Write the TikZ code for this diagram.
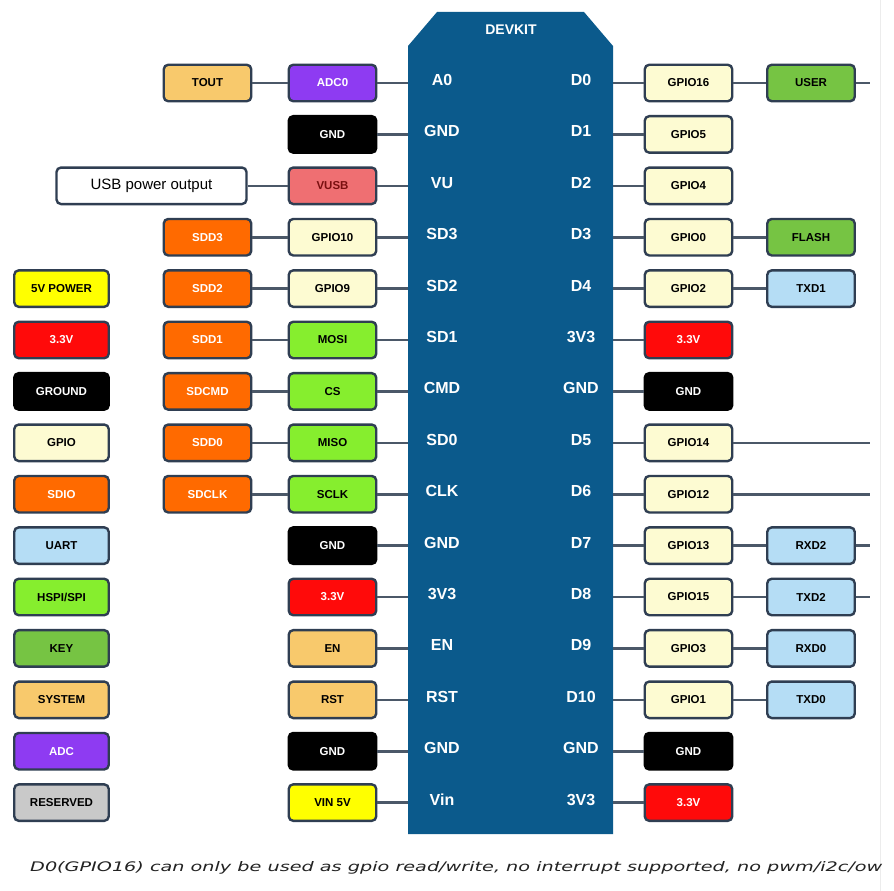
\documentclass[tikz,border=0pt]{standalone}
\usepackage{fontspec}
\setmainfont{Liberation Sans}
\newfontfamily\footfont{DejaVu Sans}
\definecolor{chipblue}{HTML}{0B5A8C}
\definecolor{bord}{HTML}{2F3E52}
\definecolor{wirec}{HTML}{4B5868}
\definecolor{cream}{HTML}{FDFBD2}
\definecolor{sdioc}{HTML}{FF6A00}
\definecolor{hspic}{HTML}{86EE2E}
\definecolor{keyc}{HTML}{76C443}
\definecolor{uartc}{HTML}{B5DDF5}
\definecolor{sysc}{HTML}{F8C96C}
\definecolor{adcc}{HTML}{8E3BF2}
\definecolor{vusbc}{HTML}{EF6F72}
\definecolor{vusbt}{HTML}{7A1010}
\definecolor{resc}{HTML}{C9C9C9}
\definecolor{redc}{HTML}{FF0A0A}
\definecolor{yelc}{HTML}{FFFF00}
\definecolor{foottext}{HTML}{222222}
\tikzset{
  pbox/.style={draw=bord, line width=2.4pt, rounded corners=4.5pt, minimum width=87.5pt, minimum height=36.5pt, inner sep=0pt, font=\bfseries\fontsize{11.5}{11.5}\selectfont},
  lbox/.style={pbox, minimum width=94.5pt},
  wbox/.style={pbox, minimum width=190pt, fill=white, text=black, font=\fontsize{15}{15}\selectfont},
  gpio/.style={fill=cream, text=black},
  sdio/.style={fill=sdioc, text=white},
  hspi/.style={fill=hspic, text=black},
  keyb/.style={fill=keyc, text=black},
  uart/.style={fill=uartc, text=black},
  sysb/.style={fill=sysc, text=black},
  adcb/.style={fill=adcc, text=white},
  vusb/.style={fill=vusbc, text=vusbt},
  resb/.style={fill=resc, text=black},
  gndb/.style={fill=black, draw=black, text=white},
  p3b/.style={fill=redc, text=white},
  p5b/.style={fill=yelc, text=black},
  wire/.style={draw=wirec, line width=2.6pt},
  pinl/.style={text=white, font=\bfseries\fontsize{16}{16}\selectfont, inner sep=0pt},
}
\begin{document}
\begin{tikzpicture}[x=1pt,y=-1pt]
\useasboundingbox (0,0) rectangle (894,891);
\fill[white] (0,0) rectangle (894,891);
\draw[gray!15, line width=1pt] (880,0) -- (880,891);
% chip
\fill[chipblue] (408,46) -- (437,12) -- (584,12) -- (613,46) -- (613,834) -- (408,834) -- cycle;
\node[text=white, font=\bfseries\fontsize{14}{14}\selectfont] (title) at (511,30) {DEVKIT};
\coordinate (chipL) at (408,0);
\coordinate (chipR) at (613,0);
\coordinate (tailR) at (870,0);
% pin labels
\foreach \i/\l/\r in {0/A0/D0,1/GND/D1,2/VU/D2,3/SD3/D3,4/SD2/D4,5/SD1/3V3,6/CMD/GND,7/SD0/D5,8/CLK/D6,9/GND/D7,10/3V3/D8,11/EN/D9,12/RST/D10,13/GND/GND,14/Vin/3V3}{
  \node[pinl] (pl\i) at (442,{80+51.4*\i}) {\l};
  \node[pinl] (pr\i) at (581,{80+51.4*\i}) {\r};
}
% left column 2
\node[pbox,adcb] (L2-0) at (332.5,83) {ADC0};
\node[pbox,gndb] (L2-1) at (332.5,134.4) {GND};
\node[pbox,vusb] (L2-2) at (332.5,185.8) {VUSB};
\node[pbox,gpio] (L2-3) at (332.5,237.2) {GPIO10};
\node[pbox,gpio] (L2-4) at (332.5,288.6) {GPIO9};
\node[pbox,hspi] (L2-5) at (332.5,340) {MOSI};
\node[pbox,hspi] (L2-6) at (332.5,391.4) {CS};
\node[pbox,hspi] (L2-7) at (332.5,442.8) {MISO};
\node[pbox,hspi] (L2-8) at (332.5,494.2) {SCLK};
\node[pbox,gndb] (L2-9) at (332.5,545.6) {GND};
\node[pbox,p3b] (L2-10) at (332.5,597) {3.3V};
\node[pbox,sysb] (L2-11) at (332.5,648.4) {EN};
\node[pbox,sysb] (L2-12) at (332.5,699.8) {RST};
\node[pbox,gndb] (L2-13) at (332.5,751.2) {GND};
\node[pbox,p5b] (L2-14) at (332.5,802.6) {VIN 5V};
% left column 1
\node[pbox,sysb] (L1-0) at (207.5,83) {TOUT};
\node[wbox] (L1-2) at (151.5,185.8) {USB power output};
\node[pbox,sdio] (L1-3) at (207.5,237.2) {SDD3};
\node[pbox,sdio] (L1-4) at (207.5,288.6) {SDD2};
\node[pbox,sdio] (L1-5) at (207.5,340) {SDD1};
\node[pbox,sdio] (L1-6) at (207.5,391.4) {SDCMD};
\node[pbox,sdio] (L1-7) at (207.5,442.8) {SDD0};
\node[pbox,sdio] (L1-8) at (207.5,494.2) {SDCLK};
% legend
\node[lbox,p5b] (G-4) at (61.5,288.6) {5V POWER};
\node[lbox,p3b] (G-5) at (61.5,340) {3.3V};
\node[lbox,gndb] (G-6) at (61.5,391.4) {GROUND};
\node[lbox,gpio] (G-7) at (61.5,442.8) {GPIO};
\node[lbox,sdio] (G-8) at (61.5,494.2) {SDIO};
\node[lbox,uart] (G-9) at (61.5,545.6) {UART};
\node[lbox,hspi] (G-10) at (61.5,597) {HSPI/SPI};
\node[lbox,keyb] (G-11) at (61.5,648.4) {KEY};
\node[lbox,sysb] (G-12) at (61.5,699.8) {SYSTEM};
\node[lbox,adcb] (G-13) at (61.5,751.2) {ADC};
\node[lbox,resb] (G-14) at (61.5,802.6) {RESERVED};
% right column 1
\node[pbox,gpio] (R1-0) at (688.5,83) {GPIO16};
\node[pbox,gpio] (R1-1) at (688.5,134.4) {GPIO5};
\node[pbox,gpio] (R1-2) at (688.5,185.8) {GPIO4};
\node[pbox,gpio] (R1-3) at (688.5,237.2) {GPIO0};
\node[pbox,gpio] (R1-4) at (688.5,288.6) {GPIO2};
\node[pbox,p3b] (R1-5) at (688.5,340) {3.3V};
\node[pbox,gndb] (R1-6) at (688.5,391.4) {GND};
\node[pbox,gpio] (R1-7) at (688.5,442.8) {GPIO14};
\node[pbox,gpio] (R1-8) at (688.5,494.2) {GPIO12};
\node[pbox,gpio] (R1-9) at (688.5,545.6) {GPIO13};
\node[pbox,gpio] (R1-10) at (688.5,597) {GPIO15};
\node[pbox,gpio] (R1-11) at (688.5,648.4) {GPIO3};
\node[pbox,gpio] (R1-12) at (688.5,699.8) {GPIO1};
\node[pbox,gndb] (R1-13) at (688.5,751.2) {GND};
\node[pbox,p3b] (R1-14) at (688.5,802.6) {3.3V};
% right column 2
\node[pbox,keyb] (R2-0) at (811,83) {USER};
\node[pbox,keyb] (R2-3) at (811,237.2) {FLASH};
\node[pbox,uart] (R2-4) at (811,288.6) {TXD1};
\node[pbox,uart] (R2-9) at (811,545.6) {RXD2};
\node[pbox,uart] (R2-10) at (811,597) {TXD2};
\node[pbox,uart] (R2-11) at (811,648.4) {RXD0};
\node[pbox,uart] (R2-12) at (811,699.8) {TXD0};
% wires
\foreach \i in {0,...,14}{
  \draw[wire] (L2-\i.east) -- (L2-\i.east -| chipL);
  \draw[wire] (R1-\i.west) -- (R1-\i.west -| chipR);
}
\foreach \i in {0,2,3,4,5,6,7,8}{
  \draw[wire] (L1-\i.east) -- (L2-\i.west);
}
\foreach \i in {0,3,4,9,10,11,12}{
  \draw[wire] (R1-\i.east) -- (R2-\i.west);
}
\foreach \i in {0,9,10}{
  \draw[wire] (R2-\i.east) -- (R2-\i.east -| tailR);
}
\foreach \i in {7,8}{
  \draw[wire] (R1-\i.east) -- (R1-\i.east -| tailR);
}
% footer
\node[anchor=west, inner sep=0pt, text=foottext] (foot) at (30,868) {\resizebox{852pt}{10pt}{\footfont\itshape D0(GPIO16) can only be used as gpio read/write, no interrupt supported, no pwm/i2c/ow}};
\end{tikzpicture}
\end{document}
